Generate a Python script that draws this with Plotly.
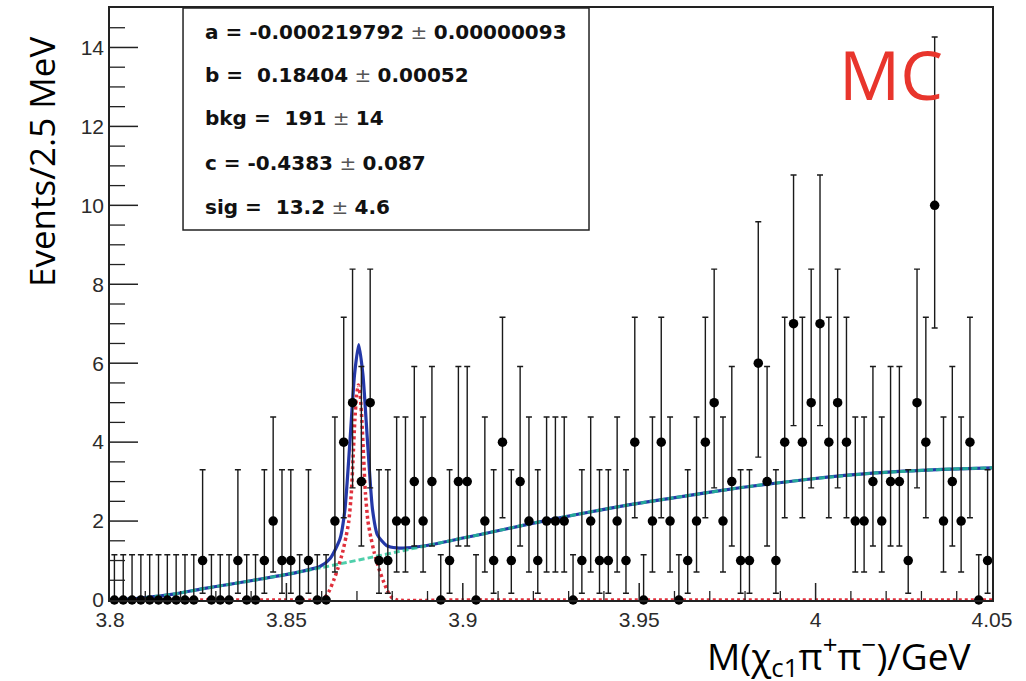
import math
import plotly.graph_objects as go

# ---------------------------------------------------------------------------
# Histogram: M(chi_c1 pi+ pi-) in 2.5 MeV bins from 3.80 to 4.05 GeV
# ---------------------------------------------------------------------------
X_MIN, X_MAX = 3.80, 4.05
Y_MIN, Y_MAX = 0.0, 15.0
BIN_WIDTH = 0.0025

counts = [
    0, 0, 0, 0, 0, 0, 0, 0, 0, 0,   # 3.800 - 3.825
    1, 0, 0, 0, 1, 0, 0, 1, 2, 1,   # 3.825 - 3.850
    1, 0, 1, 0, 0, 2, 4, 5, 3, 5,   # 3.850 - 3.875
    1, 1, 2, 2, 3, 2, 3, 0, 1, 3,   # 3.875 - 3.900
    3, 0, 2, 1, 4, 1, 3, 2, 1, 2,   # 3.900 - 3.925
    2, 2, 0, 1, 2, 1, 1, 2, 1, 4,   # 3.925 - 3.950
    0, 2, 4, 2, 0, 1, 2, 4, 5, 2,   # 3.950 - 3.975
    3, 1, 1, 6, 3, 1, 4, 7, 4, 5,   # 3.975 - 4.000
    7, 4, 5, 4, 2, 2, 3, 2, 3, 3,   # 4.000 - 4.025
    1, 5, 4, 10, 2, 3, 2, 4, 0, 1,  # 4.025 - 4.050
]

x_tick_vals = [3.80, 3.85, 3.90, 3.95, 4.00, 4.05]
x_tick_labels = ["3.8", "3.85", "3.9", "3.95", "4", "4.05"]
y_tick_vals = [0, 2, 4, 6, 8, 10, 12, 14]
y_tick_labels = ["0", "2", "4", "6", "8", "10", "12", "14"]
X_MINOR_STEP = 0.01
Y_MINOR_STEP = 0.5

# Fit curves (events per bin) sampled along the mass axis
bkg_x = [3.800, 3.805, 3.810, 3.818, 3.826, 3.834, 3.844, 3.853, 3.860,
         3.867, 3.874, 3.883, 3.891, 3.900, 3.905, 3.919, 3.933, 3.947,
         3.962, 3.979, 3.998, 4.017, 4.036, 4.050]
bkg_y = [0.00, 0.02, 0.06, 0.15, 0.28, 0.40, 0.55, 0.70, 0.82,
         0.95, 1.08, 1.25, 1.40, 1.57, 1.66, 1.93, 2.18, 2.41,
         2.62, 2.85, 3.06, 3.22, 3.31, 3.35]

total_x = [3.800, 3.805, 3.810, 3.818, 3.826, 3.834, 3.844, 3.853, 3.8595,
           3.8624, 3.8652, 3.8666, 3.8680, 3.8693, 3.8705, 3.8717, 3.8730,
           3.8744, 3.8758, 3.8784, 3.8813, 3.8841, 3.891, 3.900, 3.905,
           3.919, 3.933, 3.947, 3.962, 3.979, 3.998, 4.017, 4.036, 4.050]
total_y = [0.00, 0.02, 0.06, 0.15, 0.28, 0.40, 0.55, 0.70, 0.85,
           1.05, 1.55, 2.30, 4.00, 5.70, 6.47, 5.70, 4.00,
           2.30, 1.65, 1.38, 1.32, 1.32, 1.40, 1.57, 1.66,
           1.93, 2.18, 2.41, 2.62, 2.85, 3.06, 3.22, 3.31, 3.35]

sig_x = [3.800, 3.850, 3.8594, 3.8609, 3.8622, 3.8634, 3.8646, 3.8659, 3.8669,
         3.8677, 3.8684, 3.8689, 3.8694, 3.8699, 3.8704, 3.8709, 3.8714,
         3.8719, 3.8724, 3.8731, 3.8739, 3.8749, 3.8762, 3.8774, 3.8786,
         3.8799, 3.8814, 3.900, 4.050]
sig_y = [0.00, 0.00, 0.00, 0.06, 0.24, 0.50, 0.80, 1.20, 1.60,
         2.00, 2.70, 3.60, 4.55, 5.20, 5.45, 5.20, 4.55,
         3.60, 2.70, 2.00, 1.60, 1.20, 0.80, 0.50, 0.24,
         0.06, 0.00, 0.00, 0.00]

stat_lines = [
    ("a = -0.000219792", "0.00000093"),
    ("b =  0.18404", "0.00052"),
    ("bkg =  191", "14"),
    ("c = -0.4383", "0.087"),
    ("sig =  13.2", "4.6"),
]

bin_centers = [X_MIN + BIN_WIDTH * (i + 0.5) for i in range(len(counts))]


# ---------------------------------------------------------------------------
# Poisson (Garwood) 68% intervals for the data error bars
# ---------------------------------------------------------------------------
ALPHA = 0.5 * (1.0 - 0.682689492)
ZERO_COUNT_UPPER = 1.148  # upper edge drawn for empty bins


def pois_cdf(k, mu):
    term, total = math.exp(-mu), 0.0
    for i in range(k + 1):
        if i > 0:
            term *= mu / i
        total += term
    return total


def solve(fn, target, lo, hi):
    # fn decreasing in mu
    for _ in range(200):
        mid = 0.5 * (lo + hi)
        if fn(mid) > target:
            lo = mid
        else:
            hi = mid
    return 0.5 * (lo + hi)


def interval(n):
    if n == 0:
        return 0.0, ZERO_COUNT_UPPER
    lower = solve(lambda m: pois_cdf(n - 1, m), 1.0 - ALPHA, 0.0, n + 50.0)
    upper = solve(lambda m: pois_cdf(n, m), ALPHA, 0.0, n + 50.0)
    return lower, upper


err_up, err_dn = [], []
for n in counts:
    lo, hi = interval(n)
    err_up.append(hi - n)
    err_dn.append(n - lo)

# ---------------------------------------------------------------------------
# Figure
# ---------------------------------------------------------------------------
WIDTH, HEIGHT = 1026, 681
MARGIN = dict(l=110, r=34, t=8, b=81)
PLOT_W = WIDTH - MARGIN["l"] - MARGIN["r"]
PLOT_H = HEIGHT - MARGIN["t"] - MARGIN["b"]

fig = go.Figure()

fig.add_trace(go.Scatter(
    x=total_x, y=total_y, mode="lines",
    line=dict(color="#2438a8", width=3.2, shape="spline", smoothing=0.6),
    cliponaxis=False, hoverinfo="skip", showlegend=False,
))
fig.add_trace(go.Scatter(
    x=bkg_x, y=bkg_y, mode="lines",
    line=dict(color="rgba(35,195,150,0.8)", width=3, dash="6px,3px",
              shape="spline", smoothing=0.6),
    cliponaxis=False, hoverinfo="skip", showlegend=False,
))
fig.add_trace(go.Scatter(
    x=sig_x, y=sig_y, mode="lines",
    line=dict(color="#e0303c", width=3.5, dash="3px,3px", shape="spline",
              smoothing=0.5),
    cliponaxis=False, hoverinfo="skip", showlegend=False,
))

fig.add_trace(go.Scatter(
    x=bin_centers, y=counts, mode="markers",
    marker=dict(color="#000000", size=9.5),
    error_y=dict(type="data", symmetric=False, array=err_up,
                 arrayminus=err_dn, color="#1a1a1a", thickness=1.4, width=3),
    cliponaxis=False, hoverinfo="skip", showlegend=False,
))

tick_font = dict(family="Liberation Sans, Arial, sans-serif", size=21,
                 color="#2b2b2b")

fig.update_xaxes(
    range=[X_MIN, X_MAX], tickmode="array", tickvals=x_tick_vals,
    ticktext=x_tick_labels, ticks="", showline=True, linecolor="#222222",
    linewidth=1.5, mirror=True, showgrid=False, zeroline=False,
    tickfont=tick_font,
)
fig.update_yaxes(
    range=[Y_MIN, Y_MAX], tickmode="array", tickvals=y_tick_vals,
    ticktext=y_tick_labels, ticks="", showline=True, linecolor="#222222",
    linewidth=1.5, mirror=True, showgrid=False, zeroline=False,
    tickfont=tick_font,
)


# Tick marks pointing into the frame (major + minor), placed on the axis scale
def x_tick(xv, length_px, width):
    fig.add_shape(type="line", xref="x", yref="paper", x0=xv, x1=xv,
                  y0=0, y1=length_px / PLOT_H, layer="above",
                  line=dict(color="#222222", width=width))


def y_tick(yv, length_px, width):
    fig.add_shape(type="line", xref="paper", yref="y", x0=0,
                  x1=length_px / PLOT_W, y0=yv, y1=yv, layer="above",
                  line=dict(color="#222222", width=width))


n_xminor = int(round((X_MAX - X_MIN) / X_MINOR_STEP))
for k in range(1, n_xminor):
    xv = X_MIN + k * X_MINOR_STEP
    if all(abs(xv - t) > 1e-9 for t in x_tick_vals):
        x_tick(xv, 9, 1.3)
for t in x_tick_vals:
    if X_MIN < t < X_MAX:
        x_tick(t, 17, 1.5)

n_yminor = int(round((Y_MAX - Y_MIN) / Y_MINOR_STEP))
for k in range(1, n_yminor):
    yv = Y_MIN + k * Y_MINOR_STEP
    if all(abs(yv - t) > 1e-9 for t in y_tick_vals):
        y_tick(yv, 15, 1.3)
for t in y_tick_vals:
    if Y_MIN < t < Y_MAX:
        y_tick(t, 28, 1.5)

# Fit-parameter box
fig.add_shape(type="rect", xref="paper", yref="paper",
              x0=0.0828, x1=0.5431, y0=0.625, y1=1.0,
              line=dict(color="#222222", width=1.5),
              fillcolor="white", layer="above")

line_y = [0.9595, 0.8868, 0.8142, 0.7382, 0.6639]
for (label, err), yy in zip(stat_lines, line_y):
    fig.add_annotation(
        xref="paper", yref="paper", x=0.1054, y=yy,
        xanchor="left", yanchor="middle", showarrow=False,
        text=f"<b>{label}</b><span style='color:#555555'> ± </span><b>{err}</b>",
        font=dict(family="DejaVu Sans, sans-serif", size=20, color="#111111"),
    )

title_font = "'Open Sans', Lato, sans-serif"
fig.add_annotation(
    xref="paper", yref="paper", x=-0.077, y=0.74,
    xanchor="center", yanchor="middle", showarrow=False, textangle=-90,
    text="Events/2.5 MeV",
    font=dict(family=title_font, size=35, color="#000000"),
)
fig.add_annotation(
    xref="paper", yref="paper", x=0.827, y=-0.0945,
    xanchor="center", yanchor="middle", showarrow=False,
    text="M(χ<sub>c1</sub>π<sup>+</sup>π<sup>−</sup>)/GeV",
    font=dict(family=title_font, size=37, color="#000000"),
)
fig.add_annotation(
    xref="paper", yref="paper", x=0.885, y=0.889,
    xanchor="center", yanchor="middle", showarrow=False,
    text="MC",
    font=dict(family=title_font, size=68, color="#e8352c"),
)

fig.update_layout(
    template="none",
    width=WIDTH, height=HEIGHT,
    margin=MARGIN,
    paper_bgcolor="white", plot_bgcolor="white",
)

fig.write_html("out.html")
